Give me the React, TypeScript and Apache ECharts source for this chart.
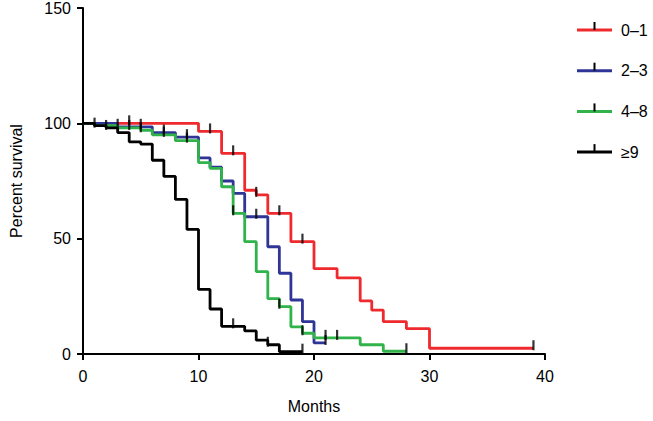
import React, { useEffect, useRef } from "react";
import * as echarts from "echarts";

// Kaplan–Meier steps: value becomes V[i] at time T[i]; last entry = end of follow-up
const seriesNames = ["0–1", "2–3", "4–8", "≥9"];
const seriesColors = ["#ee2a2e", "#2f3596", "#2fb34a", "#000000"];

const redT = [0, 10, 12, 14, 15, 16, 18, 20, 22, 24, 25, 26, 28, 30, 39];
const redV = [100, 96.5, 87, 71, 69, 61, 48.7, 37, 33, 23, 19, 14, 11, 2.5, 2.5];
const redCensor = [4, 11, 13, 15, 17, 19, 39];

const blueT = [0, 3, 6, 8, 10, 11, 12, 13, 14, 16, 17, 18, 19, 20, 21];
const blueV = [100, 98.5, 96, 94, 85, 81, 75, 69.6, 59.5, 46.5, 35, 23.4, 14, 4.8, 4.8];
const blueCensor = [3, 5, 7, 9, 15, 21];

const greenT = [0, 1, 3, 5, 6, 8, 10, 11, 12, 13, 14, 15, 16, 17, 18, 19, 20, 24, 26, 28];
const greenV = [100, 99, 98, 97, 95, 92.5, 83, 80.5, 72.5, 61, 48.7, 35.7, 24, 20.5, 11.8, 9, 7, 4, 1.2, 1.2];
const greenCensor = [4, 5, 7, 9, 13, 17, 19, 21, 22, 28];

const blackT = [0, 1, 2, 3, 4, 5, 6, 7, 8, 9, 10, 11, 12, 14, 15, 16, 17, 19];
const blackV = [100, 99, 98, 96, 92, 91, 84, 77, 67, 54, 28, 19.5, 12, 10, 6, 4, 1, 1];
const blackCensor = [1, 2, 13, 16, 19];

const xTicks = { min: 0, max: 40, interval: 10 };
const yTicks = { min: 0, max: 150, interval: 50 };

const allT = [redT, blueT, greenT, blackT];
const allV = [redV, blueV, greenV, blackV];
const allCensor = [redCensor, blueCensor, greenCensor, blackCensor];

function valueAt(T: number[], V: number[], t: number): number {
  let v = V[0];
  for (let i = 0; i < T.length; i++) {
    if (T[i] <= t) v = V[i];
  }
  return v;
}

const FONT = "'Liberation Sans', Arial, Helvetica, sans-serif";

export default function App() {
  const ref = useRef<HTMLDivElement>(null);
  useEffect(() => {
    if (!ref.current) return;
    const chart = echarts.init(ref.current, undefined, { renderer: "svg" });

    const lineSeries = seriesNames.map((name, i) => ({
      name,
      type: "line",
      step: "end",
      showSymbol: false,
      symbol: "none",
      data: allT[i].map((t, j) => [t, allV[i][j]]),
      lineStyle: { color: seriesColors[i], width: 2.8 },
      itemStyle: { color: seriesColors[i] },
      z: 2 + i,
    }));

    const censorSeries = seriesNames.map((name, i) => ({
      name: name + " censored",
      type: "scatter",
      symbol: "rect",
      symbolSize: [2.2, 10],
      symbolOffset: [0, -3],
      data: allCensor[i].map((t) => [t, valueAt(allT[i], allV[i], t)]),
      itemStyle: { color: "#000" },
      z: 10,
    }));

    const legendX = 577;
    const legendY0 = 30;
    const legendGap = 40.7;
    const legendGraphics: any[] = [];
    seriesNames.forEach((name, i) => {
      const y = legendY0 + i * legendGap;
      legendGraphics.push({
        type: "line",
        shape: { x1: legendX, y1: y, x2: legendX + 35, y2: y },
        style: { stroke: seriesColors[i], lineWidth: 3 },
      });
      legendGraphics.push({
        type: "line",
        shape: { x1: legendX + 17.5, y1: y - 8, x2: legendX + 17.5, y2: y },
        style: { stroke: "#000", lineWidth: 2 },
      });
      legendGraphics.push({
        type: "text",
        x: legendX + 44,
        y,
        style: {
          text: name,
          fill: "#000",
          font: `16px ${FONT}`,
          verticalAlign: "middle",
          align: "left",
        },
      });
    });

    chart.setOption({
      animation: false,
      backgroundColor: "#fff",
      grid: { left: 76, right: 108, top: 8, bottom: 67, containLabel: false },
      xAxis: {
        type: "value",
        min: xTicks.min,
        max: xTicks.max,
        interval: xTicks.interval,
        name: "Months",
        nameLocation: "middle",
        nameGap: 44,
        nameTextStyle: { fontFamily: FONT, fontSize: 16, color: "#000" },
        axisLine: { show: true, onZero: false, lineStyle: { color: "#000", width: 2 } },
        axisTick: { show: true, length: 6, lineStyle: { color: "#000", width: 2 } },
        axisLabel: { fontFamily: FONT, fontSize: 16, color: "#000", margin: 14 },
        splitLine: { show: false },
      },
      yAxis: {
        type: "value",
        min: yTicks.min,
        max: yTicks.max,
        interval: yTicks.interval,
        name: "Percent survival",
        nameLocation: "middle",
        nameGap: 59,
        nameRotate: 90,
        nameTextStyle: { fontFamily: FONT, fontSize: 16, color: "#000" },
        axisLine: { show: true, onZero: false, lineStyle: { color: "#000", width: 2 } },
        axisTick: { show: true, length: 6, lineStyle: { color: "#000", width: 2 } },
        axisLabel: { fontFamily: FONT, fontSize: 16, color: "#000", margin: 12 },
        splitLine: { show: false },
      },
      series: [...lineSeries, ...censorSeries],
      graphic: legendGraphics,
    });

    return () => chart.dispose();
  }, []);

  return (
    <div
      ref={ref}
      style={{ position: "fixed", left: 0, top: 0, width: 653, height: 421, background: "#fff" }}
    />
  );
}
